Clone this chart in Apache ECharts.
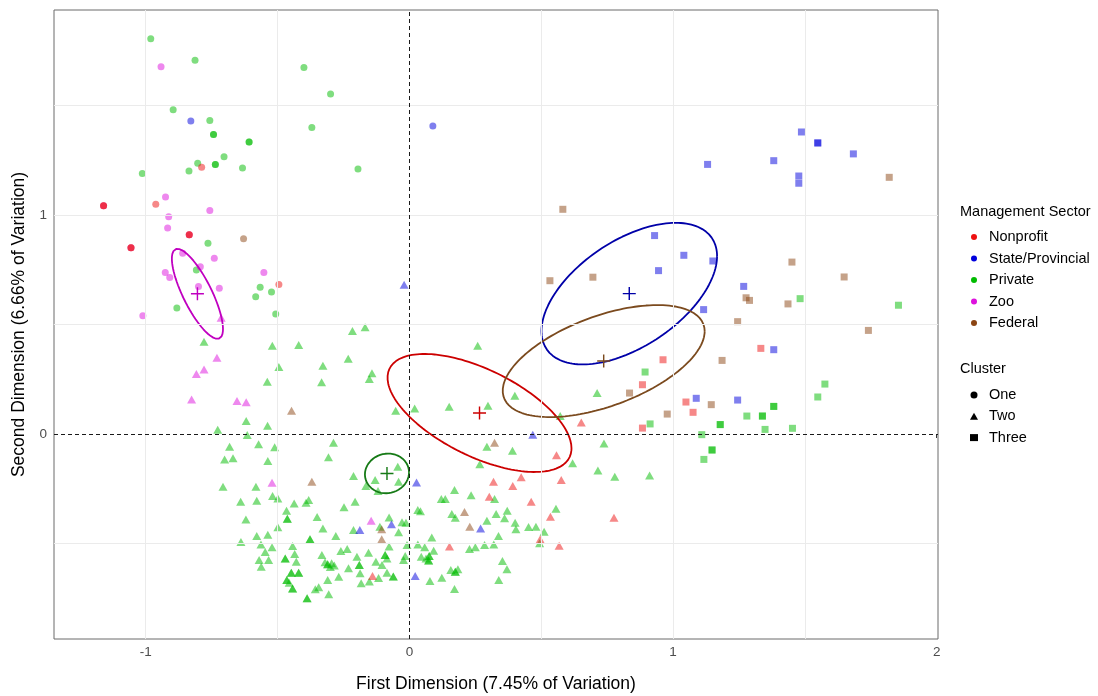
<!DOCTYPE html>
<html>
<head>
<meta charset="utf-8">
<script src="https://cdn.jsdelivr.net/npm/echarts@6/dist/echarts.min.js"></script>
<style>
  html, body { margin: 0; padding: 0; background: #ffffff; }
  #chart { width: 1098px; height: 696px; }
</style>
</head>
<body>
<div id="chart"></div>
<script>
// ---- Categories ----
const sectors = ['Nonprofit', 'State/Provincial', 'Private', 'Zoo', 'Federal'];
const clusters = ['One', 'Two', 'Three'];

// ---- Ordination scores: [first dimension, second dimension, cluster (1|2|3)] ----
const nonprofitPts = [
  [-0.788, 1.218, 1], [-1.160, 1.042, 1], [-1.160, 1.042, 1], [-0.962, 1.049, 1],
  [-0.835, 0.910, 1], [-0.835, 0.910, 1], [-1.056, 0.851, 1], [-1.056, 0.851, 1], [-0.495, 0.683, 1],
  [0.652, 0.053, 2], [0.558, -0.097, 2], [0.576, -0.210, 2], [0.424, -0.198, 2], [0.319, -0.218, 2],
  [0.392, -0.237, 2], [0.303, -0.286, 2], [0.462, -0.309, 2], [0.535, -0.378, 2], [0.776, -0.382, 2],
  [0.496, -0.481, 2], [0.568, -0.510, 2], [0.152, -0.514, 2], [-0.140, -0.648, 2],
  [1.333, 0.391, 3], [0.962, 0.339, 3], [0.884, 0.225, 3], [0.884, 0.027, 3], [1.049, 0.146, 3], [1.076, 0.099, 3]
];

const statePts = [
  [-0.829, 1.429, 1], [0.089, 1.406, 1],
  [-0.020, 0.682, 2], [0.468, -0.003, 2], [0.027, -0.221, 2], [0.270, -0.432, 2], [-0.188, -0.438, 2],
  [-0.068, -0.412, 2], [0.022, -0.648, 2],
  [1.131, 1.231, 3], [1.382, 1.248, 3], [1.487, 1.379, 3], [1.549, 1.329, 3], [1.549, 1.329, 3],
  [1.684, 1.279, 3], [1.477, 1.178, 3], [1.477, 1.145, 3], [0.930, 0.906, 3], [1.041, 0.816, 3],
  [1.151, 0.790, 3], [0.945, 0.746, 3], [1.268, 0.674, 3], [1.116, 0.568, 3], [1.382, 0.385, 3],
  [1.088, 0.163, 3], [1.245, 0.155, 3]
];

const privatePts = [
  [-0.981, 1.805, 1], [-0.813, 1.706, 1], [-0.400, 1.673, 1], [-0.299, 1.553, 1], [-0.896, 1.481, 1],
  [-0.757, 1.432, 1], [-0.743, 1.368, 1], [-0.743, 1.368, 1], [-0.370, 1.399, 1], [-0.608, 1.333, 1],
  [-0.608, 1.333, 1], [-0.703, 1.266, 1], [-0.803, 1.236, 1], [-0.736, 1.231, 1], [-0.736, 1.231, 1],
  [-0.633, 1.215, 1], [-0.836, 1.201, 1], [-1.013, 1.189, 1], [-0.195, 1.210, 1], [-0.764, 0.871, 1],
  [-0.808, 0.749, 1], [-0.882, 0.575, 1], [-0.566, 0.670, 1], [-0.523, 0.648, 1], [-0.583, 0.627, 1],
  [-0.507, 0.548, 1],
  [-0.779, 0.421, 2], [-0.520, 0.403, 2], [-0.420, 0.406, 2], [-0.216, 0.470, 2], [-0.168, 0.487, 2],
  [-0.495, 0.306, 2], [-0.328, 0.312, 2], [-0.232, 0.344, 2], [-0.539, 0.239, 2], [-0.333, 0.236, 2],
  [-0.619, 0.059, 2], [-0.538, 0.038, 2], [-0.727, 0.020, 2],
  [0.259, 0.403, 2], [-0.142, 0.277, 2], [-0.152, 0.251, 2], [-0.052, 0.106, 2], [0.020, 0.116, 2],
  [0.151, 0.125, 2], [0.298, 0.129, 2], [0.400, 0.175, 2], [0.572, 0.082, 2], [0.712, 0.187, 2],
  [0.294, -0.058, 2], [0.391, -0.076, 2], [0.267, -0.138, 2], [0.619, -0.134, 2], [0.738, -0.043, 2],
  [0.715, -0.167, 2], [0.779, -0.195, 2], [0.911, -0.189, 2],
  [-0.044, -0.149, 2], [-0.041, -0.218, 2], [-0.130, -0.210, 2], [-0.165, -0.237, 2], [-0.119, -0.260, 2],
  [-0.212, -0.192, 2], [-0.206, -0.309, 2],
  [0.171, -0.256, 2], [0.234, -0.280, 2], [0.323, -0.297, 2], [0.121, -0.297, 2], [0.136, -0.297, 2],
  [0.556, -0.341, 2], [0.161, -0.365, 2], [0.174, -0.382, 2], [0.032, -0.347, 2], [0.042, -0.353, 2],
  [0.329, -0.365, 2], [0.371, -0.350, 2], [0.361, -0.385, 2], [0.294, -0.396, 2], [0.401, -0.405, 2],
  [0.404, -0.435, 2], [0.452, -0.425, 2], [0.480, -0.423, 2], [0.511, -0.446, 2], [0.338, -0.466, 2],
  [0.494, -0.499, 2], [0.228, -0.525, 2], [0.250, -0.517, 2], [0.285, -0.507, 2], [0.320, -0.504, 2],
  [0.353, -0.580, 2], [0.370, -0.618, 2], [0.339, -0.667, 2], [0.171, -0.708, 2], [0.123, -0.656, 2],
  [0.078, -0.671, 2], [0.157, -0.621, 2], [0.174, -0.629, 2], [0.174, -0.629, 2], [0.184, -0.618, 2],
  [0.085, -0.472, 2],
  [0.032, -0.504, 2], [0.058, -0.517, 2], [0.075, -0.557, 2], [0.075, -0.557, 2], [0.063, -0.568, 2],
  [0.092, -0.533, 2], [0.045, -0.560, 2], [0.073, -0.578, 2], [0.073, -0.578, 2],
  [-0.077, -0.381, 2], [-0.112, -0.423, 2], [-0.028, -0.403, 2], [-0.013, -0.405, 2], [-0.041, -0.449, 2],
  [-0.212, -0.438, 2], [-0.077, -0.514, 2], [-0.009, -0.507, 2], [-0.092, -0.553, 2], [-0.092, -0.553, 2],
  [-0.016, -0.557, 2], [-0.155, -0.542, 2], [-0.199, -0.560, 2], [-0.127, -0.583, 2], [-0.085, -0.568, 2],
  [-0.190, -0.598, 2], [-0.190, -0.598, 2], [-0.104, -0.598, 2], [-0.022, -0.575, 2], [-0.061, -0.651, 2],
  [-0.061, -0.651, 2], [-0.117, -0.658, 2], [-0.085, -0.633, 2], [-0.187, -0.636, 2], [-0.183, -0.682, 2],
  [-0.152, -0.674, 2],
  [-0.615, -0.005, 2], [-0.682, -0.058, 2], [-0.572, -0.047, 2], [-0.511, -0.061, 2], [-0.288, -0.040, 2],
  [-0.701, -0.116, 2], [-0.669, -0.111, 2], [-0.537, -0.123, 2], [-0.307, -0.106, 2], [-0.707, -0.241, 2],
  [-0.582, -0.241, 2], [-0.640, -0.309, 2], [-0.579, -0.305, 2], [-0.519, -0.283, 2], [-0.499, -0.294, 2],
  [-0.437, -0.317, 2], [-0.392, -0.314, 2], [-0.382, -0.301, 2], [-0.248, -0.335, 2], [-0.466, -0.350, 2],
  [-0.620, -0.390, 2], [-0.463, -0.387, 2], [-0.463, -0.387, 2], [-0.350, -0.379, 2], [-0.499, -0.426, 2],
  [-0.328, -0.431, 2], [-0.639, -0.493, 2], [-0.579, -0.466, 2], [-0.537, -0.460, 2], [-0.377, -0.481, 2],
  [-0.377, -0.481, 2], [-0.279, -0.466, 2], [-0.563, -0.504, 2], [-0.521, -0.517, 2], [-0.443, -0.511, 2],
  [-0.260, -0.534, 2], [-0.236, -0.525, 2], [-0.547, -0.539, 2], [-0.471, -0.568, 2], [-0.471, -0.568, 2],
  [-0.435, -0.548, 2], [-0.570, -0.575, 2], [-0.534, -0.575, 2], [-0.562, -0.606, 2], [-0.429, -0.583, 2],
  [-0.332, -0.553, 2], [-0.320, -0.585, 2], [-0.310, -0.595, 2], [-0.310, -0.595, 2], [-0.295, -0.590, 2],
  [-0.285, -0.600, 2], [-0.300, -0.607, 2], [-0.231, -0.613, 2], [-0.448, -0.633, 2], [-0.448, -0.633, 2],
  [-0.420, -0.633, 2], [-0.420, -0.633, 2], [-0.268, -0.652, 2], [-0.465, -0.667, 2], [-0.465, -0.667, 2],
  [-0.456, -0.679, 2], [-0.310, -0.667, 2], [-0.443, -0.705, 2], [-0.443, -0.705, 2], [-0.357, -0.709, 2],
  [-0.344, -0.700, 2], [-0.306, -0.732, 2], [-0.388, -0.750, 2], [-0.388, -0.750, 2],
  [1.482, 0.618, 3], [1.855, 0.588, 3], [0.894, 0.283, 3], [0.913, 0.046, 3], [1.576, 0.228, 3],
  [1.549, 0.169, 3], [1.382, 0.126, 3], [1.382, 0.126, 3], [1.280, 0.082, 3], [1.339, 0.082, 3],
  [1.339, 0.082, 3], [1.179, 0.043, 3], [1.179, 0.043, 3], [1.349, 0.021, 3], [1.453, 0.026, 3],
  [1.109, -0.003, 3], [1.148, -0.073, 3], [1.148, -0.073, 3], [1.117, -0.116, 3]
];

const zooPts = [
  [-1.160, 1.042, 1], [-0.835, 0.910, 1], [-1.056, 0.851, 1],
  [-0.942, 1.677, 1], [-0.925, 1.082, 1], [-0.757, 1.021, 1], [-0.913, 0.992, 1], [-0.917, 0.941, 1],
  [-0.740, 0.802, 1], [-0.860, 0.825, 1], [-0.793, 0.764, 1], [-0.926, 0.737, 1], [-0.909, 0.715, 1],
  [-0.800, 0.673, 1], [-0.721, 0.665, 1], [-1.011, 0.540, 1], [-0.552, 0.738, 1],
  [-0.714, 0.531, 2], [-0.730, 0.348, 2], [-0.779, 0.295, 2], [-0.808, 0.274, 2], [-0.826, 0.158, 2],
  [-0.654, 0.151, 2], [-0.619, 0.145, 2], [-0.521, -0.222, 2], [-0.145, -0.396, 2]
];

const federalPts = [
  [-0.629, 0.892, 1],
  [-0.447, 0.106, 2], [-0.370, -0.218, 2], [0.323, -0.040, 2], [0.209, -0.356, 2], [0.229, -0.423, 2],
  [-0.105, -0.435, 2], [-0.105, -0.481, 2],
  [0.582, 1.026, 3], [1.820, 1.172, 3], [0.533, 0.700, 3], [0.696, 0.716, 3], [0.835, 0.187, 3],
  [1.451, 0.785, 3], [1.649, 0.717, 3], [1.277, 0.622, 3], [1.290, 0.610, 3], [1.436, 0.594, 3],
  [1.245, 0.513, 3], [1.741, 0.473, 3], [1.186, 0.336, 3], [1.145, 0.134, 3], [0.978, 0.091, 3]
];

// ---- Group centroids and dispersion (sxx, sxy, syy) for each sector's ellipse ----
const centroidNonprofit = [0.266, 0.096];
const centroidState = [0.834, 0.641];
const centroidPrivate = [-0.085, -0.180];
const centroidZoo = [-0.804, 0.640];
const centroidFederal = [0.737, 0.333];

const spreadNonprofit = [0.1217, -0.0563, 0.0726];
const spreadState = [0.1109, 0.0570, 0.1045];
const spreadPrivate = [0.0070, 0.0004, 0.0082];
const spreadZoo = [0.0094, -0.0156, 0.0422];
const spreadFederal = [0.1467, 0.0520, 0.0654];

// ---- Axis ticks and grid ----
const xTicks = [-1, 0, 1, 2];
const yTicks = [0, 1];
const xGrid = [-1, -0.5, 0.5, 1, 1.5];
const yGrid = [-0.5, 0.5, 1, 1.5];

// ---- Styling ----
const pointColor = {
  'Nonprofit': '#ee1111',
  'State/Provincial': '#0000dd',
  'Private': '#00bb00',
  'Zoo': '#dd11dd',
  'Federal': '#8b4513'
};
const ellipseColor = {
  'Nonprofit': '#cc0000',
  'State/Provincial': '#0000a8',
  'Private': '#167a16',
  'Zoo': '#c000c0',
  'Federal': '#7b4a1e'
};
const FONT = '"Liberation Sans", Arial, Helvetica, sans-serif';

const pointsBySector = {
  'Nonprofit': nonprofitPts,
  'State/Provincial': statePts,
  'Private': privatePts,
  'Zoo': zooPts,
  'Federal': federalPts
};
const centroids = {
  'Nonprofit': centroidNonprofit,
  'State/Provincial': centroidState,
  'Private': centroidPrivate,
  'Zoo': centroidZoo,
  'Federal': centroidFederal
};
const spreads = {
  'Nonprofit': spreadNonprofit,
  'State/Provincial': spreadState,
  'Private': spreadPrivate,
  'Zoo': spreadZoo,
  'Federal': spreadFederal
};

const clusterSymbol = { 1: 'circle', 2: 'triangle', 3: 'rect' };
const clusterSize = { 1: 7, 2: [9, 8], 3: 7 };

// outline of a dispersion ellipse from its centre and (sxx, sxy, syy)
function ellipseOutline(c, s) {
  const l11 = Math.sqrt(s[0]);
  const l21 = s[1] / l11;
  const l22 = Math.sqrt(s[2] - l21 * l21);
  const out = [];
  const n = 160;
  for (let i = 0; i <= n; i++) {
    const t = (2 * Math.PI * i) / n;
    out.push([c[0] + l11 * Math.cos(t), c[1] + l21 * Math.cos(t) + l22 * Math.sin(t)]);
  }
  return out;
}

const PLUS = 'path://M4.45,0h1.1v4.45h4.45v1.1h-4.45v4.45h-1.1v-4.45h-4.45v-1.1h4.45z';

const series = [];

// background grid lines
series.push({
  type: 'scatter', name: '_grid', data: [], silent: true, z: 1,
  markLine: {
    silent: true, symbol: 'none', animation: false,
    label: { show: false },
    lineStyle: { color: '#ebebeb', width: 1, type: 'solid' },
    emphasis: { disabled: true },
    data: xGrid.map(v => ({ xAxis: v })).concat(yGrid.map(v => ({ yAxis: v })))
  }
});

// points, drawn sector by sector
const drawOrder = ['Private', 'Federal', 'State/Provincial', 'Zoo', 'Nonprofit'];
drawOrder.forEach(sec => {
  series.push({
    type: 'scatter',
    name: sec,
    data: pointsBySector[sec],
    symbol: (v) => clusterSymbol[v[2]],
    symbolSize: (v) => clusterSize[v[2]],
    itemStyle: { color: pointColor[sec], opacity: 0.5 },
    emphasis: { disabled: true },
    z: 2
  });
});

// reference lines through the origin
series.push({
  type: 'scatter', name: '_zero', data: [], silent: true, z: 3,
  markLine: {
    silent: true, symbol: 'none', animation: false,
    label: { show: false },
    lineStyle: { color: '#1a1a1a', width: 1, type: [4, 3] },
    emphasis: { disabled: true },
    data: [{ xAxis: 0 }, { yAxis: 0 }]
  }
});

// dispersion ellipses and centroid markers
sectors.forEach(sec => {
  series.push({
    type: 'line',
    name: sec + ' ellipse',
    data: ellipseOutline(centroids[sec], spreads[sec]),
    showSymbol: false,
    symbol: 'none',
    smooth: false,
    silent: true,
    lineStyle: { color: ellipseColor[sec], width: 1.8 },
    itemStyle: { color: ellipseColor[sec] },
    z: 4
  });
  series.push({
    type: 'scatter',
    name: sec + ' centroid',
    data: [centroids[sec]],
    symbol: PLUS,
    symbolSize: 13,
    silent: true,
    itemStyle: { color: ellipseColor[sec], opacity: 1 },
    z: 5
  });
});

// entries for the cluster key
clusters.forEach((c, i) => {
  series.push({
    type: 'scatter', name: c, data: [],
    symbol: clusterSymbol[i + 1],
    itemStyle: { color: '#000000' }
  });
});

const legendText = { fontFamily: FONT, fontSize: 14.5, color: '#000000', lineHeight: 16, padding: [0, 0, 0, 7] };

const option = {
  animation: false,
  backgroundColor: '#ffffff',
  textStyle: { fontFamily: FONT },
  grid: {
    left: 54, right: 160, top: 10, bottom: 57,
    outerBoundsMode: 'none',
    show: true, borderColor: '#6a6a6a', borderWidth: 1, backgroundColor: '#ffffff'
  },
  title: [
    { text: 'Management Sector', left: 960, top: 204, padding: 0,
      textStyle: { fontFamily: FONT, fontSize: 14.5, fontWeight: 'normal', color: '#000000' } },
    { text: 'Cluster', left: 960, top: 361, padding: 0,
      textStyle: { fontFamily: FONT, fontSize: 14.5, fontWeight: 'normal', color: '#000000' } }
  ],
  legend: [
    {
      orient: 'vertical', left: 971, top: 229, padding: 0,
      itemWidth: 6, itemHeight: 6, itemGap: 5.5,
      selectedMode: false,
      itemStyle: { opacity: 1 },
      textStyle: legendText,
      data: sectors.map(n => ({ name: n, icon: 'circle' }))
    },
    {
      orient: 'vertical', left: 970, top: 387, padding: 0,
      itemWidth: 8, itemHeight: 7, itemGap: 5.3,
      selectedMode: false,
      itemStyle: { opacity: 1 },
      textStyle: Object.assign({}, legendText, { padding: [0, 0, 0, 6] }),
      data: [
        { name: 'One', icon: 'circle' },
        { name: 'Two', icon: 'triangle' },
        { name: 'Three', icon: 'rect' }
      ]
    }
  ],
  xAxis: {
    type: 'value', min: -1.348, max: 2.005,
    name: 'First Dimension (7.45% of Variation)',
    nameLocation: 'middle', nameGap: 36,
    nameTextStyle: { fontFamily: FONT, fontSize: 17.5, color: '#000000' },
    axisLine: { show: false },
    splitLine: { show: false },
    axisTick: { show: true, length: 4, customValues: xTicks, lineStyle: { color: '#333333' } },
    axisLabel: { customValues: xTicks, margin: 6, fontFamily: FONT, fontSize: 13.5, color: '#4d4d4d' }
  },
  yAxis: {
    type: 'value', min: -0.936, max: 1.936,
    name: 'Second Dimension (6.66% of Variation)',
    nameLocation: 'middle', nameGap: 26, nameRotate: 90,
    nameTextStyle: { fontFamily: FONT, fontSize: 17.5, color: '#000000' },
    axisLine: { show: false },
    splitLine: { show: false },
    axisTick: { show: true, length: 4, customValues: yTicks, lineStyle: { color: '#333333' } },
    axisLabel: { customValues: yTicks, margin: 7, fontFamily: FONT, fontSize: 13.5, color: '#4d4d4d' }
  },
  series: series
};

const chart = echarts.init(document.getElementById('chart'), null, { renderer: 'canvas' });
chart.setOption(option);
</script>
</body>
</html>
